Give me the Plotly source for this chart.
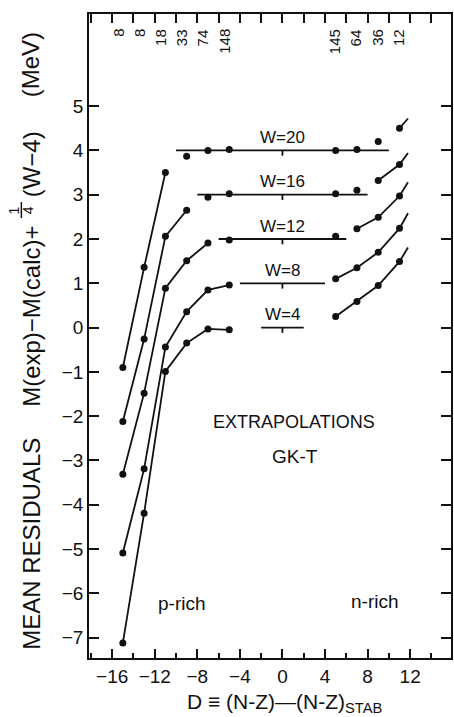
import plotly.graph_objects as go

# ---------------- data ----------------
D_left = [-15, -13, -11, -9, -7, -5]
D_right = [5, 7, 9, 11]
D_ext = 11.8
counts_left = [8, 8, 18, 33, 74, 148]
counts_right = [145, 64, 36, 12]

W_values = [4, 8, 12, 16, 20]

w4_left = [-7.12, -4.19, -0.99, -0.35, -0.03, -0.05]
w4_right = [0.25, 0.59, 0.95, 1.49]
w4_ext = 1.81

w8_left = [-5.09, -3.19, -0.44, 0.36, 0.85, 0.96]
w8_right = [1.10, 1.35, 1.70, 2.24]
w8_ext = 2.58

w12_left = [-3.31, -1.48, 0.89, 1.51, 1.91, 1.98]
w12_right = [2.06, 2.23, 2.49, 2.97]
w12_ext = 3.28

w16_left = [-2.12, -0.26, 2.06, 2.65, 2.94, 3.02]
w16_right = [3.02, 3.10, 3.32, 3.68]
w16_ext = 3.94

w20_left = [-0.90, 1.36, 3.50, 3.87, 4.00, 4.02]
w20_right = [4.00, 4.02, 4.20, 4.50]
w20_ext = 4.72

# how many left points are joined by the curve, and index where right curve starts
left_joined = [6, 6, 5, 4, 3]
right_start = [0, 0, 1, 2, 3]

lefts = [w4_left, w8_left, w12_left, w16_left, w20_left]
rights = [w4_right, w8_right, w12_right, w16_right, w20_right]
exts = [w4_ext, w8_ext, w12_ext, w16_ext, w20_ext]

x_ticks_major = [-16, -12, -8, -4, 0, 4, 8, 12]
y_ticks = list(range(-7, 6))

# ---------------- geometry helpers (pixel -> paper) ----------------
W_PX, H_PX = 454, 717
PL, PR, PT, PB = 89, 453, 14, 658


def fx(p):
    return (p - PL) / (PR - PL)


def fy(p):
    return (PB - p) / (PB - PT)


BLACK = "#111111"
FONT = "Liberation Sans, Arial, sans-serif"

# ---------------- build traces ----------------
lx, ly = [], []
mx, my = [], []
for W, L, R, E, nj, rs in zip(W_values, lefts, rights, exts, left_joined, right_start):
    off = (W - 4) / 4.0
    # left curve
    lx += D_left[:nj] + [None]
    ly += L[:nj] + [None]
    # right curve with extrapolation
    lx += D_right[rs:] + [D_ext, None]
    ly += R[rs:] + [E, None]
    # reference line spanning +-W/2
    lx += [-W / 2, W / 2, None]
    ly += [off, off, None]
    # small tick at D=0 on the reference line
    lx += [0, 0, None]
    ly += [off, off - 0.12, None]
    # markers
    mx += D_left + D_right
    my += L + R

fig = go.Figure()
fig.add_trace(go.Scatter(x=lx, y=ly, mode="lines",
                         line=dict(color=BLACK, width=1.8),
                         hoverinfo="skip", showlegend=False))
fig.add_trace(go.Scatter(x=mx, y=my, mode="markers",
                         marker=dict(color=BLACK, size=7),
                         showlegend=False))
# invisible trace to activate the top axis
fig.add_trace(go.Scatter(x=[D_left[0]], y=[0], xaxis="x2", mode="markers",
                         marker=dict(opacity=0), hoverinfo="skip", showlegend=False))

xr = [-18.18, 15.84]
yr = [-7.46, 7.08]

annotations = []
# W labels
for W in W_values:
    annotations.append(dict(x=0, y=(W - 4) / 4.0, xref="x", yref="y",
                            text=f"W={W}", showarrow=False, yanchor="middle",
                            yshift=13, font=dict(size=17, color=BLACK, family=FONT)))
# counts on top
for d, c in zip(D_left, counts_left):
    annotations.append(dict(x=d, y=fy(27), xref="x", yref="paper", text=str(c),
                            textangle=-90, showarrow=False, yanchor="top",
                            xshift=-5, font=dict(size=15, color=BLACK, family=FONT)))
for d, c in zip(D_right, counts_right):
    annotations.append(dict(x=d, y=fy(27), xref="x", yref="paper", text=str(c),
                            textangle=-90, showarrow=False, yanchor="top",
                            xshift=-1, font=dict(size=15, color=BLACK, family=FONT)))


def txt(text, xp, yp, size, angle=0):
    annotations.append(dict(x=fx(xp), y=fy(yp), xref="paper", yref="paper",
                            text=text, showarrow=False, textangle=angle,
                            xanchor="center", yanchor="middle",
                            font=dict(size=size, color=BLACK, family=FONT)))


txt("EXTRAPOLATIONS", 295.5, 422, 18)
txt("GK-T", 296.5, 456, 19)
txt("p-rich", 182.5, 603, 19)
txt("n-rich", 377, 601, 19)
txt("D ≡ (N-Z)—(N-Z)<sub>STAB</sub>", 286, 703, 21)

# y-axis title, built from pieces (rotated)
txt("MEAN RESIDUALS", 31, 543.5, 24, -90)
txt("M(exp)−M(calc)+", 31, 316.5, 24, -90)
txt("1", 14, 210, 14, -90)
txt("4", 28, 210, 14, -90)
txt("(W−4)", 31, 164, 24, -90)
txt("(MeV)", 31, 65, 24, -90)

shapes = [dict(type="line", xref="paper", yref="paper",
               x0=fx(21), x1=fx(21), y0=fy(202), y1=fy(218),
               line=dict(color=BLACK, width=1.5))]

axis_common = dict(showgrid=False, zeroline=False, showline=True,
                   linecolor=BLACK, linewidth=1.5, tickcolor=BLACK,
                   tickwidth=1.5, ticks="inside")

fig.update_layout(
    width=W_PX, height=H_PX,
    margin=dict(l=PL, r=W_PX - PR, t=PT, b=H_PX - PB, pad=0),
    paper_bgcolor="white", plot_bgcolor="white",
    showlegend=False,
    font=dict(family=FONT, color=BLACK),
    xaxis=dict(range=xr, tickmode="array", tickvals=x_ticks_major,
               ticklen=9, mirror=False,
               tickfont=dict(size=19, color=BLACK, family=FONT),
               minor=dict(tickmode="linear", tick0=0, dtick=2, ticks="inside",
                          ticklen=5, tickwidth=1.5, tickcolor=BLACK, showgrid=False),
               **axis_common),
    xaxis2=dict(range=xr, overlaying="x", side="top", anchor="y",
                tickmode="linear", tick0=0, dtick=2, ticklen=9,
                showticklabels=False, **axis_common),
    yaxis=dict(range=yr, tickmode="array", tickvals=y_ticks, ticklen=10,
               mirror="ticks",
               tickfont=dict(size=19, color=BLACK, family=FONT),
               **axis_common),
    annotations=annotations,
    shapes=shapes,
)

fig.write_html("out.html",
               config={"displayModeBar": False},
               post_script="document.body.style.margin='0px';document.body.style.overflow='hidden';")
